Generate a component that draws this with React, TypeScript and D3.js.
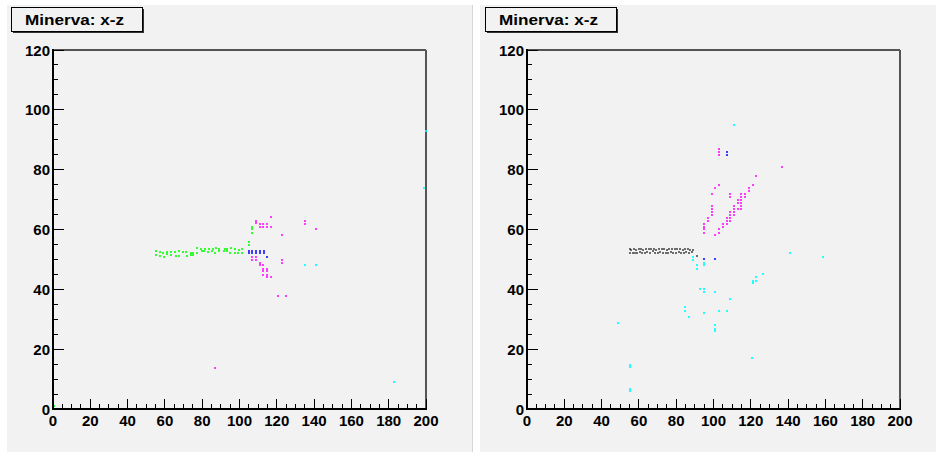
import React from "react";
import * as d3 from "d3";

type Pt = [number, number];

// Axis labels
const xTickValues = [0, 20, 40, 60, 80, 100, 120, 140, 160, 180, 200];
const yTickValues = [0, 20, 40, 60, 80, 100, 120];
const titleText = "Minerva: x-z";

// Left view hits (x, z)
const leftGreen: Pt[] = [
  [55.2, 52.9], [55.2, 51.6], [57.4, 52.5], [57.4, 51.1], [59.2, 52.0], [59.5, 50.9],
  [61.0, 52.5], [61.0, 51.8], [63.1, 52.5], [63.1, 51.6], [65.2, 52.5], [66.0, 51.1],
  [67.4, 52.9], [67.7, 51.1], [69.5, 52.5], [71.3, 52.5], [71.7, 51.1], [73.8, 52.3],
  [73.8, 51.4], [75.2, 52.3], [75.2, 51.6], [77.4, 52.3], [77.0, 53.8], [79.2, 53.4],
  [79.9, 52.9], [81.0, 52.9], [81.7, 53.4], [83.5, 53.4], [83.1, 52.5], [85.3, 52.7],
  [85.6, 53.6], [87.0, 52.0], [87.4, 53.8], [88.8, 53.4], [88.8, 52.9], [91.7, 52.9],
  [92.0, 53.4], [93.5, 53.4], [93.5, 52.9], [94.9, 52.3], [95.3, 53.8], [97.4, 53.4],
  [97.8, 52.3], [99.2, 52.3], [99.6, 53.1], [101.3, 53.6], [101.3, 52.3], [104.9, 55.8],
  [104.9, 54.9], [106.7, 60.9], [106.7, 60.1], [106.7, 58.9], [0.7, 1.0],
];
const leftBlue: Pt[] = [
  [104.9, 52.9], [104.9, 52.0], [106.7, 52.9], [106.7, 52.0], [108.8, 52.9], [108.8, 52.0],
  [111.0, 52.9], [111.0, 52.0], [113.1, 52.9], [113.1, 52.0], [114.9, 50.9],
];
const leftMagenta: Pt[] = [
  [108.8, 62.9], [108.8, 62.1], [111.0, 61.8], [111.0, 61.0], [112.8, 61.8], [112.8, 61.0],
  [114.9, 61.8], [114.9, 61.0], [116.7, 64.1], [116.7, 60.9], [122.8, 58.1], [134.9, 62.9],
  [134.9, 61.8], [141.0, 60.1], [106.7, 50.9], [106.7, 49.8], [108.8, 50.9], [108.8, 49.8],
  [111.0, 48.9], [111.0, 48.0], [112.8, 48.0], [112.8, 46.9], [112.8, 46.0], [112.8, 44.9],
  [114.9, 46.9], [114.9, 46.0], [114.9, 44.9], [114.9, 44.1], [116.7, 44.0], [122.8, 49.8],
  [122.8, 48.9], [120.6, 37.8], [124.9, 37.8], [86.7, 13.8],
];
const leftCyan: Pt[] = [
  [134.9, 48.0], [141.0, 48.0], [182.8, 8.9], [200.0, 92.9], [198.9, 73.9],
];

// Right view hits (x, z)
const rightBlack: Pt[] = [
  [55.0, 53.4], [55.0, 52.3], [55.9, 53.0], [56.6, 52.0], [57.4, 53.6], [57.7, 52.3],
  [58.5, 53.1], [59.2, 52.0], [59.9, 53.4], [60.6, 52.5], [61.3, 53.6], [61.7, 52.0],
  [62.4, 53.0], [63.1, 52.3], [63.8, 53.6], [64.5, 52.5], [65.2, 53.4], [65.9, 52.0],
  [66.6, 53.6], [67.3, 52.7], [68.0, 53.4], [68.7, 52.0], [69.4, 53.1], [70.1, 52.3],
  [70.8, 53.6], [71.5, 52.5], [72.2, 53.4], [72.9, 52.0], [73.6, 53.6], [74.3, 52.3],
  [75.0, 53.1], [75.7, 52.0], [76.4, 53.6], [77.1, 52.5], [77.8, 53.4], [78.5, 52.3],
  [79.2, 53.6], [79.9, 52.0], [80.6, 53.4], [81.3, 52.5], [82.0, 53.6], [82.7, 52.3],
  [83.4, 53.1], [84.1, 52.0], [84.8, 53.4], [85.5, 52.5], [86.2, 53.6], [86.9, 52.0],
  [87.6, 53.1], [88.3, 52.5], [89.0, 53.0], [91.0, 51.1],
];
const rightMagenta: Pt[] = [
  [102.8, 87.0], [102.8, 85.9], [102.8, 85.0], [136.9, 81.0], [122.8, 77.9], [121.0, 75.0],
  [118.9, 73.9], [118.9, 73.0], [116.7, 71.9], [116.7, 71.0], [114.9, 71.9], [114.9, 71.0],
  [114.9, 69.9], [114.9, 69.0], [114.9, 67.9], [114.9, 67.0], [113.1, 69.9], [113.1, 69.0],
  [113.1, 67.0], [111.0, 67.9], [111.0, 67.0], [111.0, 65.8], [111.0, 64.9], [108.8, 71.9],
  [108.8, 71.0], [108.8, 65.8], [108.8, 64.9], [108.8, 63.8], [108.8, 62.9], [107.1, 63.8],
  [107.1, 62.9], [107.1, 61.8], [104.9, 61.8], [104.9, 60.9], [102.8, 75.0], [101.0, 73.9],
  [99.2, 71.9], [99.2, 67.9], [99.2, 67.0], [99.2, 65.8], [99.2, 64.9], [97.1, 63.8],
  [97.1, 62.9], [94.9, 61.8], [94.9, 60.9], [94.9, 60.1], [102.8, 60.1], [94.9, 58.9],
  [102.8, 58.9], [101.0, 58.1],
];
const rightBlue: Pt[] = [
  [107.1, 85.9], [107.1, 85.0], [94.9, 50.0], [101.0, 50.0],
];
const rightCyan: Pt[] = [
  [111.0, 95.0], [89.0, 50.9], [89.0, 49.8], [94.9, 48.9], [94.9, 48.0], [91.0, 48.0],
  [91.0, 46.9], [141.0, 52.0], [126.7, 45.0], [122.8, 44.0], [122.8, 42.9], [121.0, 42.9],
  [121.0, 42.0], [92.8, 40.0], [94.9, 40.0], [94.9, 39.1], [101.0, 39.1], [108.8, 36.9],
  [84.9, 34.0], [84.9, 32.9], [87.0, 30.9], [94.9, 32.0], [102.8, 32.9], [107.1, 32.9],
  [101.0, 28.0], [101.0, 26.8], [101.0, 26.0], [49.0, 28.8], [158.9, 50.9], [55.0, 14.6],
  [55.0, 13.9], [55.0, 6.8], [55.0, 6.1], [120.6, 17.0],
];

const FONT = "'Liberation Sans', Arial, Helvetica, sans-serif";

interface Series {
  color: string;
  opacity: number;
  points: Pt[];
}

interface PanelProps {
  canvasX: number;
  canvasW: number;
  frameLeft: number;
  titleX: number;
  series: Series[];
}

function Panel({ canvasX, canvasW, frameLeft, titleX, series }: PanelProps) {
  const frameW = 373;
  const top = 50;
  const bottom = 409;
  const xs = d3.scaleLinear().domain([0, 200]).range([frameLeft, frameLeft + frameW]);
  const ys = d3.scaleLinear().domain([0, 120]).range([bottom, top]);
  const xMinor = xs.ticks(40).filter((v) => !xTickValues.includes(v));
  const yMinor = ys.ticks(24).filter((v) => !yTickValues.includes(v));
  const right = frameLeft + frameW;

  return (
    <g>
      <rect x={canvasX} y={5} width={canvasW} height={447} fill="#f2f2f2" />
      {/* frame */}
      <line x1={frameLeft} x2={right} y1={top} y2={top} stroke="#555" strokeWidth={2} />
      <line x1={right} x2={right} y1={top} y2={bottom} stroke="#555" strokeWidth={2} />

      {/* hits */}
      <g shapeRendering="crispEdges">
        {series.map((s, i) =>
          s.points.map((p, j) => (
            <rect
              key={`${i}-${j}`}
              x={Math.round(xs(p[0])) - 1}
              y={Math.round(ys(p[1])) - 1}
              width={2}
              height={2}
              fill={s.color}
              fillOpacity={s.opacity}
            />
          ))
        )}
      </g>

      {/* axes */}
      <g shapeRendering="crispEdges">
        {xTickValues.map((v) => (
          <line key={`xM${v}`} x1={xs(v)} x2={xs(v)} y1={bottom} y2={bottom - 10.5} stroke="#000" />
        ))}
        {xMinor.map((v) => (
          <line key={`xm${v}`} x1={xs(v)} x2={xs(v)} y1={bottom} y2={bottom - 5} stroke="#000" />
        ))}
        {yTickValues.map((v) => (
          <line key={`yM${v}`} x1={frameLeft} x2={frameLeft + 11} y1={ys(v)} y2={ys(v)} stroke="#000" />
        ))}
        {yMinor.map((v) => (
          <line key={`ym${v}`} x1={frameLeft} x2={frameLeft + 5} y1={ys(v)} y2={ys(v)} stroke="#000" />
        ))}
      </g>
      <line x1={frameLeft} x2={right + 1} y1={bottom} y2={bottom} stroke="#000" strokeWidth={2} />
      <line x1={frameLeft} x2={frameLeft} y1={top - 1} y2={bottom + 1} stroke="#000" strokeWidth={2} />

      {xTickValues.map((v) => (
        <text
          key={`xl${v}`}
          x={xs(v)}
          y={426}
          textAnchor="middle"
          fontFamily={FONT}
          fontWeight="bold"
          fontSize={15}
          fill="#000"
        >
          {v}
        </text>
      ))}
      {yTickValues.map((v) => (
        <text
          key={`yl${v}`}
          x={frameLeft - 3}
          y={ys(v) + 5.5}
          textAnchor="end"
          fontFamily={FONT}
          fontWeight="bold"
          fontSize={15}
          fill="#000"
        >
          {v}
        </text>
      ))}

      {/* title box */}
      <rect x={titleX + 2} y={9} width={131} height={24} fill="#333" />
      <rect x={titleX + 0.5} y={7.5} width={131} height={24} fill="#f2f2f2" stroke="#000" strokeWidth={1} />
      <text
        x={titleX + 14}
        y={24.5}
        fontFamily={FONT}
        fontWeight="bold"
        fontSize={15}
        textLength={99}
        lengthAdjust="spacingAndGlyphs"
        fill="#000"
      >
        {titleText}
      </text>
    </g>
  );
}

export default function App() {
  const leftSeries: Series[] = [
    { color: "#00ff00", opacity: 0.8, points: leftGreen },
    { color: "#0000ff", opacity: 0.75, points: leftBlue },
    { color: "#ff00ff", opacity: 0.75, points: leftMagenta },
    { color: "#00ffff", opacity: 0.85, points: leftCyan },
  ];
  const rightSeries: Series[] = [
    { color: "#000000", opacity: 0.55, points: rightBlack },
    { color: "#ff00ff", opacity: 0.75, points: rightMagenta },
    { color: "#0000ff", opacity: 0.75, points: rightBlue },
    { color: "#00ffff", opacity: 0.85, points: rightCyan },
  ];
  return (
    <svg
      width={936}
      height={452}
      style={{ position: "absolute", left: 0, top: 0, background: "#fff" }}
    >
      <Panel canvasX={7} canvasW={465} frameLeft={53} titleX={11} series={leftSeries} />
      <line x1={472.5} x2={472.5} y1={5} y2={452} stroke="#d6d6d6" />
      <Panel canvasX={480} canvasW={456} frameLeft={527} titleX={485} series={rightSeries} />
    </svg>
  );
}
